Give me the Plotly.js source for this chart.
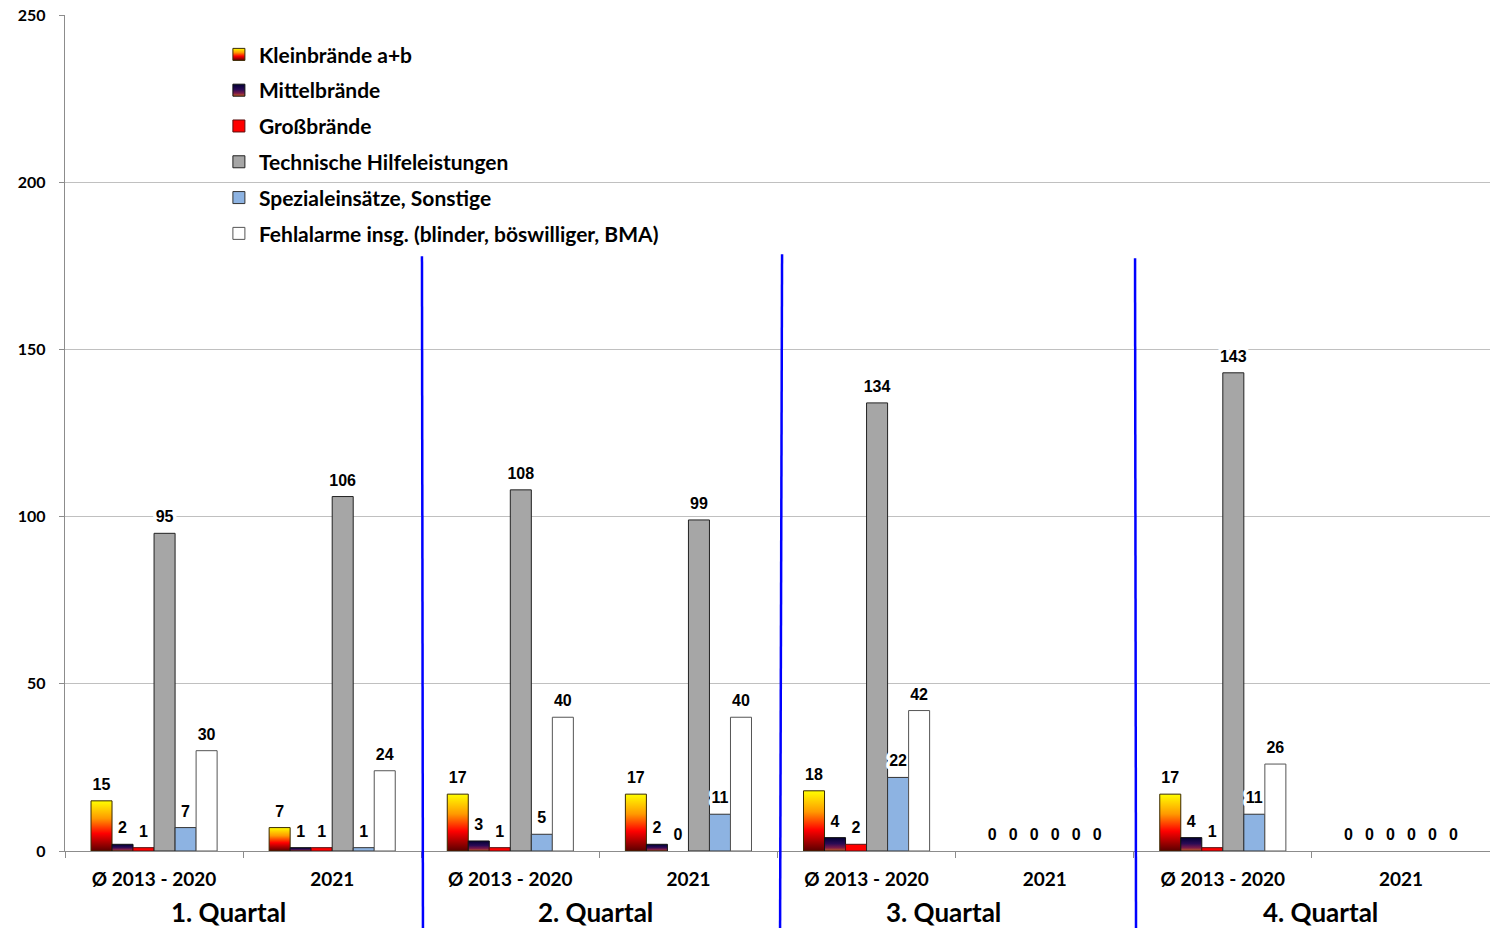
<!DOCTYPE html>
<html>
<head>
<meta charset="utf-8">
<script src="https://cdn.plot.ly/plotly-3.0.1.min.js"></script>
<style>
html,body{margin:0;padding:0;background:#fff;}
#chart{width:1490px;height:928px;}
</style>
</head>
<body>
<div id="chart"></div>
<script>
// ---- data ----
var categories = ["Ø 2013 - 2020","2021","Ø 2013 - 2020","2021","Ø 2013 - 2020","2021","Ø 2013 - 2020","2021"];
var quarters = ["1. Quartal","2. Quartal","3. Quartal","4. Quartal"];
var seriesNames = ["Kleinbrände a+b","Mittelbrände","Großbrände","Technische Hilfeleistungen","Spezialeinsätze, Sonstige","Fehlalarme insg. (blinder, böswilliger, BMA)"];
var kleinbraende   = [15, 7, 17, 17, 18, 0, 17, 0];
var mittelbraende  = [2, 1, 3, 2, 4, 0, 4, 0];
var grossbraende   = [1, 1, 1, 0, 2, 0, 1, 0];
var technischeHilfe= [95, 106, 108, 99, 134, 0, 143, 0];
var spezialeinsaetze=[7, 1, 5, 11, 22, 0, 11, 0];
var fehlalarme     = [30, 24, 40, 40, 42, 0, 26, 0];
var yTicks = [0, 50, 100, 150, 200, 250];

var seriesValues = [kleinbraende, mittelbraende, grossbraende, technischeHilfe, spezialeinsaetze, fehlalarme];
var colors = ["#ff9900", "#1a0a40", "#ff0000", "#a6a6a6", "#8db3e2", "#ffffff"];
var lineColors = ["#3a2a00", "#111111", "#5a1010", "#222222", "#333333", "#555555"];

var xIdx = categories.map(function(_, i){ return i; });

var traces = seriesValues.map(function(vals, k){
  return {
    type: "bar",
    name: seriesNames[k],
    x: xIdx,
    y: vals,
    legendgroup: "g" + k,
    marker: {color: colors[k], line: {color: lineColors[k], width: vals.map(function(v){ return v > 0 ? 1 : 0; })}},
    texttemplate: "%{y}",
    textposition: "outside",
    constraintext: "none",
    cliponaxis: false,
    textfont: {family: "Liberation Sans, Arial, sans-serif", size: 16, color: "#000", weight: 700},
    hoverinfo: "skip"
  };
});

var quarterX = [0.42, 2.48, 4.43, 6.55];
var annotations = quarters.map(function(q, i){
  return {
    text: q, xref: "x", yref: "paper", x: quarterX[i], y: -0.073,
    xanchor: "center", yanchor: "middle", showarrow: false,
    font: {family: "Lato, sans-serif", size: 26, color: "#000", weight: 700}
  };
});

function blueLine(xTop, xBot, yTop){
  return {type: "line", xref: "paper", yref: "paper", x0: xTop, x1: xBot, y0: yTop, y1: -0.1,
          line: {color: "#0000ff", width: 2.5}, layer: "above"};
}

var shapes = [
  {type: "rect", xref: "paper", yref: "paper", x0: 0.0702, x1: 0.4618, y0: 0.72, y1: 0.975,
   fillcolor: "#ffffff", line: {width: 0}, layer: "between"},
  blueLine(0.2505, 0.2512, 0.7115),
  blueLine(0.5032, 0.5018, 0.7139),
  blueLine(0.7509, 0.7516, 0.7091)
];

var layout = {
  width: 1490, height: 928,
  margin: {l: 65, r: 0, t: 15, b: 77},
  paper_bgcolor: "#fff", plot_bgcolor: "#fff",
  barmode: "group", bargap: 0.292, bargroupgap: 0,
  showlegend: true,
  legend: {
    x: 0.108, y: 0.977, xanchor: "left", yanchor: "top",
    bgcolor: "rgba(0,0,0,0)", borderwidth: 0,
    font: {family: "Lato, sans-serif", size: 21, color: "#000", weight: 700},
    tracegroupgap: 5.5, itemclick: false
  },
  xaxis: {
    range: [-0.5, 7.5], tickmode: "array", tickvals: xIdx, ticktext: categories,
    ticks: "outside", ticklen: 11, tickcolor: "rgba(0,0,0,0)",
    tickfont: {family: "Lato, sans-serif", size: 19, color: "#000", weight: 700},
    showgrid: false, zeroline: false, showline: true, linecolor: "#8c8c8c", linewidth: 1,
    minor: {tickmode: "linear", tick0: 0.5, dtick: 1, ticks: "outside", ticklen: 6, tickcolor: "#8c8c8c", showgrid: false},
    fixedrange: true
  },
  yaxis: {
    range: [0, 250], tickmode: "array", tickvals: yTicks,
    ticks: "outside", ticklen: 5, tickcolor: "#8c8c8c",
    tickfont: {family: "Lato, sans-serif", size: 16, color: "#000", weight: 700},
    showgrid: true, gridcolor: "#c0c0c0", gridwidth: 1.3,
    zeroline: false, showline: true, linecolor: "#8c8c8c", linewidth: 1.3,
    ticklabelstandoff: 10, fixedrange: true
  },
  annotations: annotations,
  shapes: shapes
};

Plotly.newPlot("chart", traces, layout, {displayModeBar: false, staticPlot: true}).then(function(gd){
  var svg = gd.querySelector(".main-svg");
  var defs = svg.querySelector("defs");
  var ns = "http://www.w3.org/2000/svg";
  function addGrad(id, stops){
    var g = document.createElementNS(ns, "linearGradient");
    g.setAttribute("id", id);
    g.setAttribute("x1", "0"); g.setAttribute("y1", "0");
    g.setAttribute("x2", "0"); g.setAttribute("y2", "1");
    stops.forEach(function(s){
      var st = document.createElementNS(ns, "stop");
      st.setAttribute("offset", s[0]);
      st.setAttribute("stop-color", s[1]);
      g.appendChild(st);
    });
    defs.appendChild(g);
  }
  addGrad("gradKlein", [[0, "#ffff00"], [0.35, "#ff9900"], [0.65, "#ff0000"], [1, "#5a0000"]]);
  addGrad("gradMittel", [[0, "#000033"], [0.45, "#2a0a55"], [0.75, "#7a1a4a"], [1, "#c86020"]]);
  var barTraces = gd.querySelectorAll(".barlayer .trace");
  var legendTraces = gd.querySelectorAll(".legend .traces");
  [["gradKlein", 0], ["gradMittel", 1]].forEach(function(p){
    if (barTraces[p[1]]) barTraces[p[1]].querySelectorAll("path").forEach(function(el){ el.style.fill = "url(#" + p[0] + ")"; });
    if (legendTraces[p[1]]) legendTraces[p[1]].querySelectorAll(".legendpoints path").forEach(function(el){ el.style.fill = "url(#" + p[0] + ")"; });
  });
  gd.querySelectorAll(".bartext").forEach(function(t){
    t.style.stroke = "#ffffff";
    t.style.strokeWidth = "7px";
    t.style.paintOrder = "stroke";
    t.style.strokeLinejoin = "round";
    var tr = t.getAttribute("transform") || "";
    t.setAttribute("transform", "translate(0,-5) " + tr);
  });
});
</script>
</body>
</html>
